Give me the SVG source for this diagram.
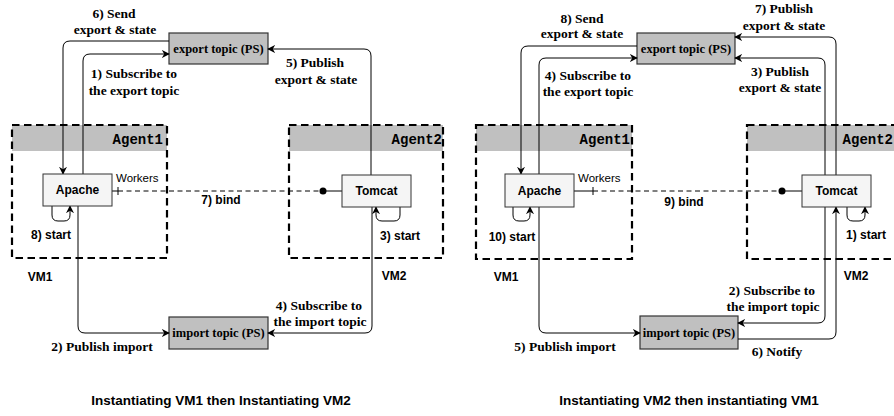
<svg xmlns="http://www.w3.org/2000/svg" width="894" height="416" viewBox="0 0 894 416">
<style>
.agent{fill:none;stroke:#000;stroke-width:2.2;stroke-dasharray:7.5,4.5}
.hdr{fill:#c0c0c0;stroke:none}
.atxt{font-family:"Liberation Mono",monospace;font-weight:bold;font-size:14px;text-anchor:end;fill:#000}
.comp{fill:#f5f5f5;stroke:#333;stroke-width:1}
.topic{fill:#c0c0c0;stroke:#333;stroke-width:1.2}
.ctxt{font-family:"Liberation Sans",Arial,sans-serif;font-weight:bold;font-size:12px;text-anchor:middle;fill:#000}
.wtxt{font-family:"Liberation Sans",Arial,sans-serif;font-size:11.5px;fill:#000}
.ttxt{font-family:"Liberation Serif",serif;font-weight:bold;font-size:12.5px;text-anchor:middle;fill:#000}
.lbl{font-family:"Liberation Serif",serif;font-weight:bold;font-size:13.5px;text-anchor:middle;fill:#000}
.cap{font-family:"Liberation Sans",Arial,sans-serif;font-weight:bold;font-size:13.5px;text-anchor:middle;fill:#000}
.edge{fill:none;stroke:#000;stroke-width:1}
.arr{marker-end:url(#ah)}
.bind{fill:none;stroke:#000;stroke-width:1;stroke-dasharray:5,3.5}
</style>
<defs>
<marker id="ah" viewBox="0 0 10 10" refX="9" refY="5" markerWidth="8" markerHeight="8" markerUnits="userSpaceOnUse" orient="auto">
<path d="M0,0 L10,5 L0,10 L3,5 Z" fill="#000"/>
</marker>
</defs>

<!-- ========== LEFT DIAGRAM ========== -->
<g id="left-agent1">
<rect class="hdr" x="12" y="125" width="155" height="26"/>
<rect class="agent" x="12" y="125" width="155" height="133"/>
<text class="atxt" x="163" y="144">Agent1</text>
<text class="ctxt" x="40" y="281">VM1</text>
</g>
<g id="left-agent2">
<rect class="hdr" x="289" y="125" width="154" height="26"/>
<rect class="agent" x="289" y="125" width="154" height="133"/>
<text class="atxt" x="442" y="144">Agent2</text>
<text class="ctxt" x="394" y="280">VM2</text>
</g>
<g id="left-export-topic">
<rect class="topic" x="169" y="33" width="99" height="31"/>
<text class="ttxt" x="218.5" y="53">export topic (PS)</text>
</g>
<g id="left-import-topic">
<rect class="topic" x="169" y="317" width="99" height="32"/>
<text class="ttxt" x="218.5" y="337">import topic (PS)</text>
</g>

<g id="left-connectors">
<path class="edge arr" d="M169,41 H70 Q63,41 63,48 V174"/>
<path class="edge arr" d="M83,174 V61 Q83,54 90,54 H169"/>
<path class="edge arr" d="M371,176 V56 Q371,49 364,49 H268"/>
<path class="edge arr" d="M78,206 V326 Q78,333 85,333 H169"/>
<path class="edge arr" d="M372,207 V326 Q372,333 365,333 H268"/>
<path class="edge arr" d="M52,206 V215 Q52,221 58,221 H64 Q70,221 70,215 V206"/>
<path class="edge arr" d="M400,207 V215 Q400,221 394,221 H382 Q376,221 376,215 V207"/>
<path class="edge" d="M112,191 H118 M118,187 V195"/>
<path class="bind" d="M118,191 H323"/>
<circle cx="323" cy="191" r="3.5" fill="#000"/>
<path class="edge" d="M323,191 H342"/>
<text class="lbl" x="114" y="18">6) Send</text>
<text class="lbl" x="115" y="34">export &amp; state</text>
<text class="lbl" x="134" y="78">1) Subscribe to</text>
<text class="lbl" x="134" y="95">the export topic</text>
<text class="lbl" x="315" y="67">5) Publish</text>
<text class="lbl" x="316" y="84">export &amp; state</text>
<text class="lbl" x="319" y="310">4) Subscribe to</text>
<text class="lbl" x="320" y="326">the import topic</text>
<text class="lbl" x="102" y="351">2) Publish import</text>
<text class="wtxt" x="116" y="182">Workers</text>
<text class="ctxt" x="221" y="204">7) bind</text>
<text class="ctxt" x="51" y="239">8) start</text>
<text class="ctxt" x="400" y="240">3) start</text>
</g>

<g id="left-apache">
<rect class="comp" x="43" y="174" width="69" height="32"/>
<text class="ctxt" x="77.5" y="194">Apache</text>
</g>
<g id="left-tomcat">
<rect class="comp" x="342" y="175" width="69" height="32"/>
<text class="ctxt" x="376.5" y="195">Tomcat</text>
</g>

<!-- ========== RIGHT DIAGRAM ========== -->
<g id="right-agent1">
<rect class="hdr" x="476" y="125" width="156" height="26"/>
<rect class="agent" x="476" y="125" width="156" height="134"/>
<text class="atxt" x="630" y="144">Agent1</text>
<text class="ctxt" x="506" y="281">VM1</text>
</g>
<g id="right-agent2">
<rect class="hdr" x="747" y="125" width="155" height="26"/>
<rect class="agent" x="747" y="125" width="155" height="134"/>
<text class="atxt" x="893" y="144">Agent2</text>
<text class="ctxt" x="856" y="280">VM2</text>
</g>
<g id="right-export-topic">
<rect class="topic" x="637" y="33" width="98" height="31"/>
<text class="ttxt" x="686" y="53">export topic (PS)</text>
</g>
<g id="right-import-topic">
<rect class="topic" x="640" y="316" width="98" height="33"/>
<text class="ttxt" x="689" y="337">import topic (PS)</text>
</g>

<g id="right-connectors">
<path class="edge arr" d="M637,46 H528 Q521,46 521,53 V174"/>
<path class="edge arr" d="M539,174 V65 Q539,58 546,58 H637"/>
<path class="edge arr" d="M836,175 V44 Q836,37 829,37 H735"/>
<path class="edge arr" d="M825,175 V65 Q825,58 818,58 H735"/>
<path class="edge arr" d="M539,207 V326 Q539,333 546,333 H640"/>
<path class="edge arr" d="M825,207 V316 Q825,323 818,323 H738"/>
<path class="edge arr" d="M738,339 H829 Q836,339 836,332 V207"/>
<path class="edge arr" d="M513,207 V215 Q513,221 519,221 H524 Q530,221 530,215 V207"/>
<path class="edge arr" d="M847,207 V215 Q847,221 853,221 H859 Q865,221 865,215 V207"/>
<path class="edge" d="M574,191 H593 M593,187 V195"/>
<path class="bind" d="M593,191 H782"/>
<circle cx="782" cy="191" r="3.5" fill="#000"/>
<path class="edge" d="M782,191 H802"/>
<text class="lbl" x="582" y="23">8) Send</text>
<text class="lbl" x="582" y="38">export &amp; state</text>
<text class="lbl" x="588" y="80">4) Subscribe to</text>
<text class="lbl" x="588" y="96">the export topic</text>
<text class="lbl" x="784" y="13">7) Publish</text>
<text class="lbl" x="784" y="30">export &amp; state</text>
<text class="lbl" x="780" y="76">3) Publish</text>
<text class="lbl" x="780" y="92">export &amp; state</text>
<text class="lbl" x="772" y="295">2) Subscribe to</text>
<text class="lbl" x="773" y="311">the import topic</text>
<text class="lbl" x="565" y="351">5) Publish import</text>
<text class="lbl" x="777" y="356">6) Notify</text>
<text class="wtxt" x="578" y="182">Workers</text>
<text class="ctxt" x="684" y="206">9) bind</text>
<text class="ctxt" x="512" y="241">10) start</text>
<text class="ctxt" x="866" y="239">1) start</text>
</g>

<g id="right-apache">
<rect class="comp" x="505" y="174" width="69" height="33"/>
<text class="ctxt" x="539.5" y="195">Apache</text>
</g>
<g id="right-tomcat">
<rect class="comp" x="802" y="175" width="69" height="32"/>
<text class="ctxt" x="836.5" y="195">Tomcat</text>
</g>

<g id="captions">
<text class="cap" x="221" y="405">Instantiating VM1 then Instantiating VM2</text>
<text class="cap" x="689" y="405">Instantiating VM2 then instantiating VM1</text>
</g>
</svg>
